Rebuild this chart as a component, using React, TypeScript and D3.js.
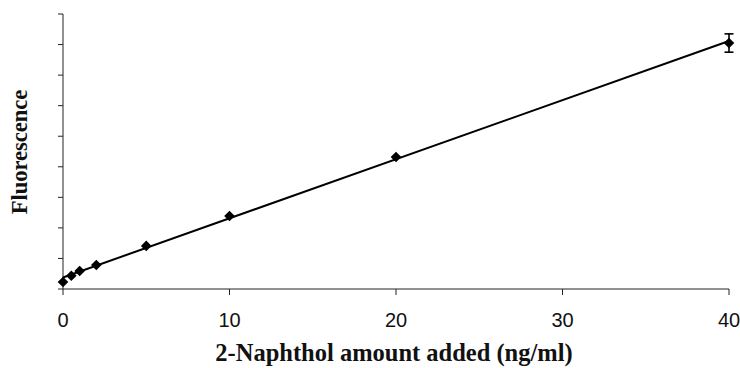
import React from "react";
import * as d3 from "d3";

const amounts = [0, 0.5, 1, 2, 5, 10, 20, 40];
const fluorescence = [2.3, 4.35, 5.9, 7.85, 14.1, 23.9, 43.2, 80.5];
const errors = [0, 0, 0, 0, 0, 0, 0, 3.0];
const xTicks = [0, 10, 20, 30, 40];
const yTicks = [0, 10, 20, 30, 40, 50, 60, 70, 80, 90];

const W = 740, H = 368;
const left = 63, right = 729, top = 14, bottom = 289;

function fit(xs: number[], ys: number[]) {
  const mx = d3.mean(xs)!, my = d3.mean(ys)!;
  let sxy = 0, sxx = 0;
  xs.forEach((x, i) => { sxy += (x - mx) * (ys[i] - my); sxx += (x - mx) * (x - mx); });
  const slope = sxy / sxx;
  return { slope, intercept: my - slope * mx };
}

export default function App() {
  const x = d3.scaleLinear().domain([0, 40]).range([left, right]);
  const y = d3.scaleLinear().domain([0, 90]).range([bottom, top]);
  const { slope, intercept } = fit(amounts, fluorescence);
  const line = d3.line<number>().x(d => x(d)).y(d => y(intercept + slope * d));
  const diamond = (cx: number, cy: number, r: number) =>
    `M${cx},${cy - r}L${cx + r},${cy}L${cx},${cy + r}L${cx - r},${cy}Z`;
  return (
    <svg width={W} height={H} style={{ position: "absolute", left: 0, top: 0, background: "#fff" }}>
      <line x1={left} x2={left} y1={top} y2={bottom} stroke="#222" strokeWidth={1} />
      <line x1={left} x2={right} y1={bottom} y2={bottom} stroke="#222" strokeWidth={1} />
      {yTicks.map(t => (
        <line key={"yt" + t} x1={left - 5} x2={left} y1={y(t)} y2={y(t)} stroke="#222" strokeWidth={1} />
      ))}
      {xTicks.map(t => (
        <g key={"xt" + t}>
          <line x1={x(t)} x2={x(t)} y1={bottom} y2={bottom + 6} stroke="#222" strokeWidth={1} />
          <text x={x(t)} y={327} textAnchor="middle" fontFamily="Liberation Sans, Arial, sans-serif" fontSize={20} fill="#111">{t}</text>
        </g>
      ))}
      <path d={line([0, 40])!} stroke="#000" strokeWidth={2} fill="none" />
      {amounts.map((a, i) => errors[i] > 0 ? (
        <g key={"e" + i} stroke="#000" strokeWidth={1.6}>
          <line x1={x(a)} x2={x(a)} y1={y(fluorescence[i] - errors[i])} y2={y(fluorescence[i] + errors[i])} />
          <line x1={x(a) - 4.5} x2={x(a) + 4.5} y1={y(fluorescence[i] - errors[i])} y2={y(fluorescence[i] - errors[i])} />
          <line x1={x(a) - 4.5} x2={x(a) + 4.5} y1={y(fluorescence[i] + errors[i])} y2={y(fluorescence[i] + errors[i])} />
        </g>
      ) : null)}
      {amounts.map((a, i) => (
        <path key={"m" + i} d={diamond(x(a), y(fluorescence[i]), 5.3)} fill="#000" />
      ))}
      <text x={394} y={361} textAnchor="middle" fontFamily="Liberation Serif, Times New Roman, serif" fontWeight="bold" fontSize={24.5} fill="#111">2-Naphthol amount added (ng/ml)</text>
      <text transform={`translate(27,152) rotate(-90)`} textAnchor="middle" fontFamily="Liberation Serif, Times New Roman, serif" fontWeight="bold" fontSize={22.5} fill="#111">Fluorescence</text>
    </svg>
  );
}
